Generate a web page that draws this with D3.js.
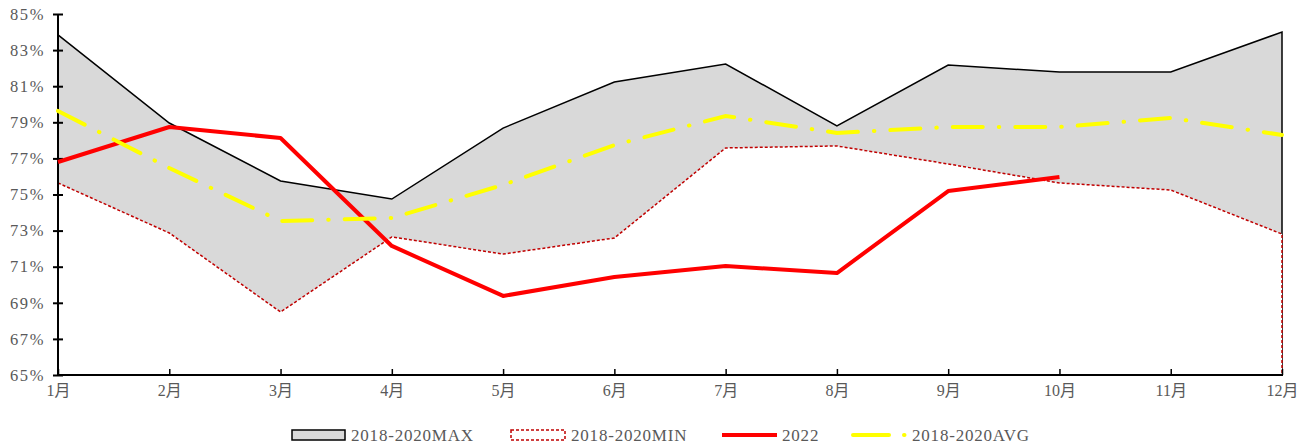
<!DOCTYPE html>
<html><head><meta charset="utf-8">
<script src="https://cdn.jsdelivr.net/npm/d3@7"></script>
<style>
body{margin:0;background:#fff;}
svg text{font-family:"Liberation Serif","Times New Roman","Noto Sans CJK SC",serif;}
</style></head>
<body><svg id="chart" width="1309" height="448"></svg>
<script>
const months = ["1月","2月","3月","4月","5月","6月","7月","8月","9月","10月","11月","12月"];
const maxVals = [83.84,78.96,75.75,74.75,78.68,81.23,82.23,78.8,82.17,81.79,81.79,84.0];
const minVals = [75.64,72.87,68.49,72.65,71.7,72.59,77.58,77.69,76.69,75.64,75.25,72.81];
const vals2022 = [76.8,78.74,78.13,72.15,69.38,70.43,71.04,70.65,75.19,75.97];
const avgVals = [79.63,76.47,73.53,73.7,75.53,77.74,79.35,78.41,78.74,78.74,79.24,78.3];
const yTicks = [65,67,69,71,73,75,77,79,81,83,85];
const seriesNames = ["2018-2020MAX","2018-2020MIN","2022","2018-2020AVG"];

const svg = d3.select("#chart");
const L = 58, R = 1282, T = 14, B = 375;
const x = d3.scalePoint().domain(months).range([L, R]);
const y = d3.scaleLinear().domain([65, 85]).range([B, T]);

const areaMax = d3.area().x((d,i)=>x(months[i])).y0(y(65)).y1(d=>y(d));
const line = d3.line().x((d,i)=>x(months[i])).y(d=>y(d));

// MAX area
svg.append("path").datum(maxVals).attr("d", areaMax)
  .attr("fill","#d9d9d9").attr("stroke","#000").attr("stroke-width",1.5).attr("stroke-linejoin","miter");
// MIN area (white, red dashed)
svg.append("path").datum(minVals).attr("d", areaMax)
  .attr("fill","#fff").attr("stroke","#c00000").attr("stroke-width",1.5)
  .attr("stroke-dasharray","3,2");

// axes
const yAxis = d3.axisLeft(y).tickValues(yTicks).tickFormat(d=>d+"%").tickSize(0);
const gy = svg.append("g").attr("transform",`translate(${L},0)`).call(yAxis);
gy.select(".domain").remove();
gy.selectAll("text").attr("x",-13).attr("font-size",16.5).attr("letter-spacing","1.6px").attr("fill","#595959");
gy.selectAll(".tick").append("line").attr("x1",-5).attr("x2",5).attr("stroke","#000").attr("stroke-width",2);
svg.append("line").attr("x1",L).attr("x2",L).attr("y1",T).attr("y2",B+1).attr("stroke","#000").attr("stroke-width",2);

const xAxis = d3.axisBottom(x).tickSize(0);
const gx = svg.append("g").attr("transform",`translate(0,${B})`).call(xAxis);
gx.select(".domain").remove();
gx.selectAll("text").attr("y",10).attr("font-size",16).attr("fill","#595959");
gx.selectAll(".tick").append("line").attr("y1",0).attr("y2",-6).attr("stroke","#000").attr("stroke-width",1.5);
svg.append("line").attr("x1",L-1).attr("x2",R+1).attr("y1",B).attr("y2",B).attr("stroke","#000").attr("stroke-width",2);

// 2022
svg.append("path").datum(vals2022).attr("d", line)
  .attr("fill","none").attr("stroke","#ff0000").attr("stroke-width",4).attr("stroke-linejoin","round");
// AVG
svg.append("path").datum(avgVals).attr("d", line)
  .attr("fill","none").attr("stroke","#ffff00").attr("stroke-width",4)
  .attr("stroke-linecap","round").attr("stroke-dasharray","30,16,0.5,16");

// legend
const lg = svg.append("g").attr("font-size",17).attr("letter-spacing","0.8px").attr("fill","#595959");
const ly = 435;
lg.append("rect").attr("x",292).attr("y",ly-5).attr("width",53).attr("height",10)
  .attr("fill","#d9d9d9").attr("stroke","#000").attr("stroke-width",1.5);
lg.append("text").attr("x",351).attr("y",ly).attr("dy","0.35em").text(seriesNames[0]);
lg.append("rect").attr("x",511).attr("y",ly-5).attr("width",54).attr("height",10)
  .attr("fill","#fff").attr("stroke","#c00000").attr("stroke-width",1.5).attr("stroke-dasharray","3,2");
lg.append("text").attr("x",571).attr("y",ly).attr("dy","0.35em").text(seriesNames[1]);
lg.append("line").attr("x1",722).attr("x2",777).attr("y1",ly).attr("y2",ly).attr("stroke","#ff0000").attr("stroke-width",4);
lg.append("text").attr("x",782).attr("y",ly).attr("dy","0.35em").text(seriesNames[2]);
lg.append("line").attr("x1",853).attr("x2",889).attr("y1",ly).attr("y2",ly).attr("stroke","#ffff00").attr("stroke-width",4).attr("stroke-linecap","round");
lg.append("line").attr("x1",904).attr("x2",904.5).attr("y1",ly).attr("y2",ly).attr("stroke","#ffff00").attr("stroke-width",4).attr("stroke-linecap","round");
lg.append("text").attr("x",912).attr("y",ly).attr("dy","0.35em").text(seriesNames[3]);
</script></body></html>
